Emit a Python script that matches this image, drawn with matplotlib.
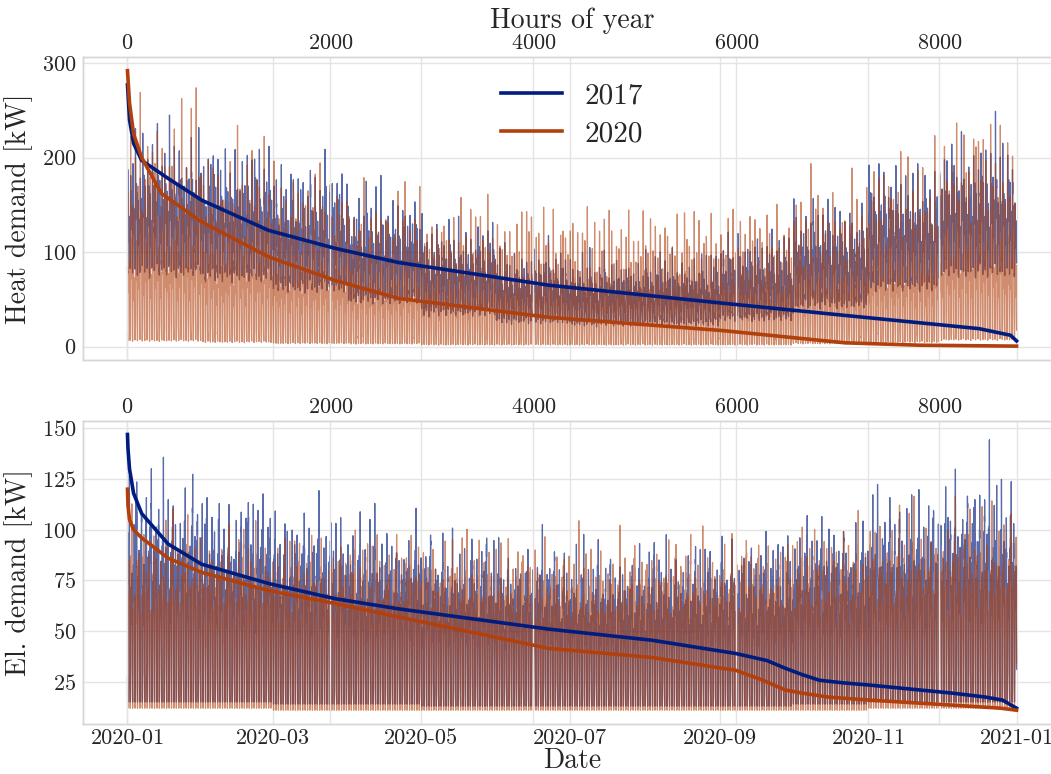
import numpy as np
import pandas as pd
import matplotlib
matplotlib.use("Agg")
import matplotlib.pyplot as plt
import matplotlib.dates as mdates

# ---------------- data (read / estimated from the reference) ----------------
# typical daily maxima / minima per month (Jan..Dec)
heat17_peak = [195, 185, 165, 140, 110, 88, 80, 82, 100, 130, 165, 190]
heat17_base = [55, 50, 40, 30, 20, 14, 12, 12, 15, 26, 42, 55]
heat20_peak = [200, 175, 150, 128, 122, 118, 115, 116, 118, 135, 165, 200]
heat20_base = [3, 2, 1, 1, 0, 0, 0, 0, 0, 1, 2, 4]
elec17_peak = [104, 98, 92, 86, 80, 77, 75, 77, 80, 88, 98, 105]
elec17_base = [15, 15, 14, 14, 13, 13, 13, 13, 13, 14, 15, 15]
elec20_peak = [84, 82, 80, 80, 80, 78, 76, 78, 80, 84, 88, 90]
elec20_base = [12, 12, 11, 11, 11, 11, 11, 11, 11, 11, 12, 12]

# typical 24-hour shapes (0 = daily minimum, 1 = daily maximum)
heat17_profile = [0.25, 0.22, 0.2, 0.22, 0.3, 0.5, 0.8, 1.0, 0.9, 0.75, 0.65, 0.6,
                  0.58, 0.56, 0.55, 0.56, 0.6, 0.68, 0.72, 0.68, 0.6, 0.5, 0.4, 0.3]
heat20_profile = [0.06, 0.03, 0.02, 0.02, 0.06, 0.25, 0.7, 1.0, 0.8, 0.55, 0.45, 0.42,
                  0.4, 0.38, 0.36, 0.37, 0.4, 0.46, 0.5, 0.45, 0.38, 0.28, 0.16, 0.1]
elec_profile = [0.12, 0.06, 0.02, 0.0, 0.02, 0.1, 0.3, 0.55, 0.68, 0.72, 0.76, 0.8,
                0.76, 0.72, 0.68, 0.66, 0.7, 0.8, 0.9, 1.0, 0.9, 0.7, 0.45, 0.25]

# day-to-day and hour-to-hour irregularity read as repeating patterns
day_factor = [0.82, 1.0, 0.9, 1.12, 0.75, 0.95, 1.22, 0.85, 1.05, 0.72, 1.1, 0.92,
              1.25, 0.8, 0.98, 1.06, 0.78, 1.18, 0.88, 1.02, 0.74, 1.14, 0.95]
hour_factor = [1.0, 0.93, 1.06, 0.88, 1.1, 0.96, 0.86, 1.15, 0.92, 1.03, 0.9, 1.12,
               0.95, 1.08, 0.87, 1.0, 0.91]

# load-duration curves: sorted hour index -> demand
dur_hours_h17 = [0, 20, 60, 140, 400, 730, 1390, 2045, 2670, 4150, 5860, 7070, 8390, 8700, 8759]
dur_vals_h17 = [277, 240, 215, 197, 178, 155, 123, 104, 89, 65, 46, 33, 19, 12, 6]
dur_hours_h20 = [0, 20, 60, 140, 335, 730, 1390, 2045, 2670, 4150, 5860, 7070, 7800, 8759]
dur_vals_h20 = [292, 258, 225, 200, 162, 132, 95, 70, 51, 31, 17, 4, 1.5, 0.5]
dur_hours_e17 = [0, 5, 20, 60, 140, 400, 730, 1390, 2045, 2670, 4150, 5170, 5990,
                 6300, 6480, 6650, 6815, 7050, 7310, 7700, 8130, 8450, 8620, 8759]
dur_vals_e17 = [147, 140, 130, 118, 108, 93, 83, 73.5, 66, 61, 51, 45.5, 39,
                35.5, 31.7, 28.5, 25.8, 24.5, 23.4, 21.5, 19.4, 17.5, 16, 12]
dur_hours_e20 = [0, 5, 20, 60, 140, 400, 730, 1390, 2045, 2670, 4150, 5170, 5990,
                 6250, 6480, 6650, 6900, 7310, 7700, 8130, 8600, 8759]
dur_vals_e20 = [120, 112, 105, 100, 96, 86, 79, 70, 63.6, 57, 41.5, 37, 30.7,
                26, 21, 19.4, 17.5, 16, 14.8, 13.5, 12, 11]

years = ["2017", "2020"]

# ---------------- build hourly series from the read arrays ----------------
dates = pd.date_range("2020-01-01", periods=8784, freq="h")
m_idx = dates.month.values - 1
h_idx = dates.hour.values
d_idx = dates.dayofyear.values - 1
t_idx = np.arange(len(dates))


def hourly(peak, base, profile, d_off, h_off):
    pk = np.asarray(peak, float)[m_idx]
    bs = np.asarray(base, float)[m_idx]
    shp = np.asarray(profile, float)[h_idx]
    df = np.asarray(day_factor)[(d_idx + d_off) % len(day_factor)]
    hf = np.asarray(hour_factor)[(t_idx + h_off) % len(hour_factor)]
    return bs + (pk - bs) * shp * df * hf


heat17 = hourly(heat17_peak, heat17_base, heat17_profile, 0, 0)
heat20 = hourly(heat20_peak, heat20_base, heat20_profile, 7, 5)
elec17 = hourly(elec17_peak, elec17_base, elec_profile, 3, 9)
elec20 = hourly(elec20_peak, elec20_base, elec_profile, 11, 2)

# ---------------- style ----------------
plt.rcParams.update({
    "font.family": "cmr10",
    "mathtext.fontset": "cm",
    "axes.formatter.use_mathtext": True,
    "axes.unicode_minus": False,
    "axes.edgecolor": "#d6d6d6",
    "axes.linewidth": 1.0,
    "grid.color": "#e4e4e4",
    "grid.linewidth": 1.0,
    "text.color": "#262626",
    "xtick.color": "#262626",
    "ytick.color": "#262626",
    "axes.labelcolor": "#262626",
})

C17 = "#001c7f"
C20 = "#b1400d"

fig = plt.figure(figsize=(10.51, 7.74), dpi=100)
ax1 = fig.add_axes([0.079, 0.535, 0.9305, 0.3915])
ax2 = fig.add_axes([0.079, 0.0646, 0.9305, 0.3919])

panels = [
    (ax1, heat17, heat20, (dur_hours_h17, dur_vals_h17), (dur_hours_h20, dur_vals_h20),
     "Heat demand [kW]"),
    (ax2, elec17, elec20, (dur_hours_e17, dur_vals_e17), (dur_hours_e20, dur_vals_e20),
     "El. demand [kW]"),
]

for i, (ax, s17, s20, d17, d20, ylab) in enumerate(panels):
    ax.plot(dates, s17, color=C17, lw=0.9, alpha=0.65)
    ax.plot(dates, s20, color=C20, lw=0.9, alpha=0.6)
    ax.grid(True)
    ax.set_axisbelow(True)
    ax.set_ylabel(ylab, fontsize=20, labelpad=6)
    ax.tick_params(axis="y", length=0, labelsize=16, pad=5)
    ax.tick_params(axis="x", length=0, labelsize=16, pad=3)
    for sp in ax.spines.values():
        sp.set_color("#d6d6d6")
    tw = ax.twiny()
    tw.plot(d17[0], d17[1], color=C17, lw=2.6, label=years[0])
    tw.plot(d20[0], d20[1], color=C20, lw=2.6, label=years[1])
    tw.grid(True, axis="x")
    tw.tick_params(length=0, labelsize=16, pad=3)
    for sp in tw.spines.values():
        sp.set_color("#d6d6d6")
    if i == 0:
        ax.tick_params(axis="x", labelbottom=False)
        tw.set_xlabel("Hours of year", fontsize=20, labelpad=4)
        tw.legend(loc="upper center", frameon=False, fontsize=21,
                  handlelength=2.1, handletextpad=0.75, borderaxespad=0.5,
                  labelspacing=0.4)
    else:
        ax.set_xlabel("Date", fontsize=20, labelpad=0)

for ax in (ax1, ax2):
    ax.xaxis.set_major_locator(mdates.MonthLocator(bymonth=[1, 3, 5, 7, 9, 11]))
    ax.xaxis.set_major_formatter(mdates.DateFormatter("%Y-%m"))

fig.savefig("out.png", dpi=100)
